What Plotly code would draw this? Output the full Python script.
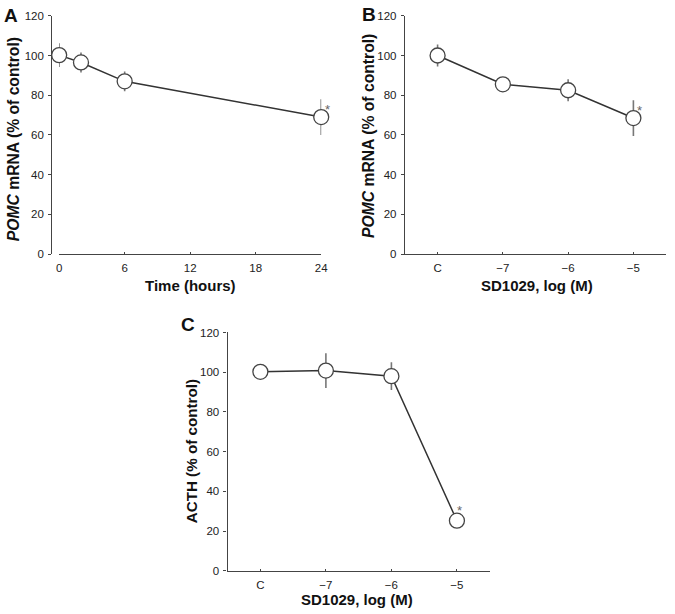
import plotly.graph_objects as go

W, H = 675, 614

# Data
time_hours = [0, 2, 6, 24]
pomc_time = [100.2, 96.5, 87, 69]
pomc_time_err = [6, 5, 5, 9]

dose_labels = ["C", "\u22127", "\u22126", "\u22125"]
dose_idx = [0, 1, 2, 3]
pomc_dose = [100, 85.5, 82.5, 68.5]
pomc_dose_err = [5.5, 3.5, 5.5, 9]
acth_dose = [100.2, 100.8, 98, 25.2]
acth_dose_err = [3.5, 8.7, 7, 2]

y_ticks = [0, 20, 40, 60, 80, 100, 120]
time_ticks = [0, 6, 12, 18, 24]

FONT = "Liberation Sans, Arial, sans-serif"
AX = "#444444"
LINE = "#333333"
ERR = "#777777"

def px_x(p):
    return p / W

def px_y(p):
    return 1 - p / H

fig = go.Figure()

def add_series(x, y, e, xa, ya):
    fig.add_trace(go.Scatter(
        x=x, y=y, xaxis=xa, yaxis=ya, mode="lines+markers",
        line=dict(color=LINE, width=1.5),
        marker=dict(size=15, color="white", line=dict(color="#444444", width=1.3)),
        error_y=dict(type="data", array=e, visible=True, color=ERR, thickness=1.6, width=0),
        cliponaxis=False, showlegend=False, hoverinfo="skip"))

add_series(time_hours, pomc_time, pomc_time_err, "x", "y")
add_series(dose_idx, pomc_dose, pomc_dose_err, "x2", "y2")
add_series(dose_idx, acth_dose, acth_dose_err, "x3", "y3")

tickfont = dict(family=FONT, size=11.5, color="#222222")

def xaxis_cfg(domain, rng, tickvals, ticktext=None):
    d = dict(domain=domain, range=rng, showgrid=False, zeroline=False,
             showline=True, linecolor=AX, linewidth=1.3, color="#222222",
             ticks="inside", ticklen=2, tickcolor=AX, tickwidth=1,
             ticklabelstandoff=3,
             tickvals=tickvals, tickfont=tickfont, fixedrange=True)
    if ticktext is not None:
        d["ticktext"] = ticktext
    return d

def yaxis_cfg(domain, anchor, position=None):
    d = dict(domain=domain, range=[0, 120], showgrid=False, zeroline=False,
             showline=True, linecolor=AX, linewidth=1.3, color="#222222",
             ticks="outside", ticklen=3, tickcolor=AX, tickwidth=1,
             ticklabelstandoff=2,
             tickvals=y_ticks, tickfont=tickfont, fixedrange=True)
    if position is not None:
        d["anchor"] = "free"
        d["position"] = position
    else:
        d["anchor"] = anchor
    return d

topA = [px_y(253), px_y(10)]
botC = [px_y(576), px_y(333)]

fig.update_layout(
    width=W, height=H, margin=dict(l=0, r=0, t=0, b=0),
    paper_bgcolor="white", plot_bgcolor="white",
    xaxis=dict(xaxis_cfg([px_x(57), px_x(323)], [0, 24], time_ticks), anchor="y"),
    yaxis=yaxis_cfg(topA, "x", position=px_x(49)),
    xaxis2=dict(xaxis_cfg([px_x(408), px_x(673)], [-0.5, 3.5], dose_idx, dose_labels), anchor="y2"),
    yaxis2=yaxis_cfg(topA, "x2"),
    xaxis3=dict(xaxis_cfg([px_x(228), px_x(494)], [-0.5, 3.5], dose_idx, dose_labels), anchor="y3"),
    yaxis3=yaxis_cfg(botC, "x3"),
)

anns = []
def paper_text(text, x, y, size, angle=0, bold=True):
    anns.append(dict(text=(f"<b>{text}</b>" if bold else text), x=px_x(x), y=px_y(y),
                     xref="paper", yref="paper", xanchor="center", yanchor="middle",
                     showarrow=False, textangle=angle,
                     font=dict(family=FONT, size=size, color="#111111")))

# Panel letters
paper_text("A", 8, 10, 19)
paper_text("B", 371, 9, 19)
paper_text("C", 188, 325, 19)

# Axis titles
paper_text("<i>POMC</i> mRNA (% of control)", 10, 136, 15.7, angle=-90)
paper_text("<i>POMC</i> mRNA (% of control)", 371, 133, 15.7, angle=-90)
paper_text("ACTH (% of control)", 191, 454, 15.2, angle=-90)
paper_text("Time (hours)", 190, 285, 15)
paper_text("SD1029, log (M)", 542, 285, 15)
paper_text("SD1029, log (M)", 359, 605, 15)

# significance stars
def star(x, y, xr, yr, dx, dy):
    anns.append(dict(text="*", x=x, y=y, xref=xr, yref=yr, showarrow=False,
                     xshift=dx, yshift=dy, font=dict(family=FONT, size=13, color="#666666")))

star(24, pomc_time[3], "x", "y", 6, 8)
star(3, pomc_dose[3], "x2", "y2", 6, 8)
star(3, acth_dose[3], "x3", "y3", 3, 10)

fig.update_layout(annotations=anns)

fig.write_html("out.html", config={"displayModeBar": False},
               post_script="document.body.style.margin='0';document.body.style.overflow='hidden';")
